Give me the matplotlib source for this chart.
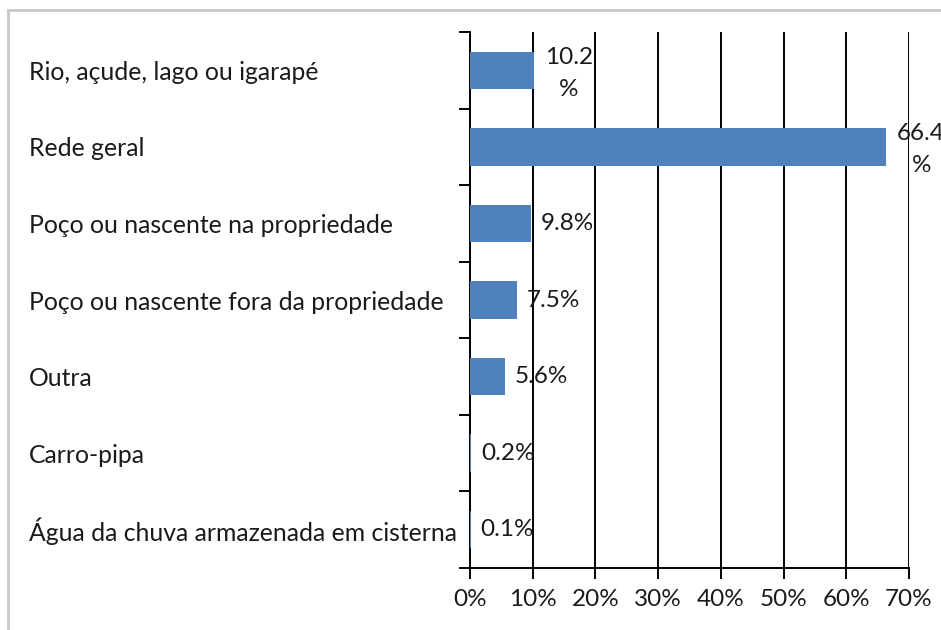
import matplotlib
matplotlib.use("Agg")
import matplotlib.pyplot as plt
from matplotlib.lines import Line2D

categories = [
    "Rio, açude, lago ou igarapé",
    "Rede geral",
    "Poço ou nascente na propriedade",
    "Poço ou nascente fora da propriedade",
    "Outra",
    "Carro-pipa",
    "Água da chuva armazenada em cisterna",
]
values = [10.2, 66.4, 9.8, 7.5, 5.6, 0.2, 0.1]
value_labels = ["10.2\n%", "66.4\n%", "9.8%", "7.5%", "5.6%", "0.2%", "0.1%"]
xticks = [0, 10, 20, 30, 40, 50, 60, 70]
xtick_labels = ["0%", "10%", "20%", "30%", "40%", "50%", "60%", "70%"]

plt.rcParams['font.family'] = ['Lato', 'DejaVu Sans']

W, H = 941, 630
fig = plt.figure(figsize=(W / 100, H / 100), dpi=100)
ax_left, ax_right, ax_top, ax_bottom = 470, 909, 32, 568
ax = fig.add_axes([ax_left / W, 1 - ax_bottom / H, (ax_right - ax_left) / W, (ax_bottom - ax_top) / H])

# outer grey frame
fig.add_artist(Line2D([8 / W, 8 / W], [0, 1 - 10 / H], color="#c8c8c8", lw=2, transform=fig.transFigure))
fig.add_artist(Line2D([8 / W, 1], [1 - 10 / H, 1 - 10 / H], color="#c8c8c8", lw=2, transform=fig.transFigure))

n = len(categories)
ypos = list(range(n))
ax.barh(ypos, values, height=0.49, color="#4F81BD", zorder=3)
ax.set_xlim(0, 70)
ax.set_ylim(n - 0.5, -0.5)

ax.set_xticks(xticks)
ax.set_xticklabels(xtick_labels, fontsize=17.5, color="#1a1a1a")
ax.grid(axis="x", color="black", lw=1.4, zorder=1)
ax.set_axisbelow(True)

ax.set_yticks(ypos)
pad_px = ax_left - 29
ax.set_yticklabels(categories, fontsize=17.8, color="#1a1a1a", ha="left")
ax.tick_params(axis="y", length=0, pad=pad_px * 72 / 100)
ax.set_yticks([i - 0.5 for i in range(n + 1)], minor=True)
ax.tick_params(axis="y", which="minor", length=8, width=1.4, direction="out")
ax.tick_params(axis="x", length=8, width=1.4, direction="out", pad=7)

for s in ["top", "right"]:
    ax.spines[s].set_visible(False)
ax.spines["left"].set_linewidth(1.4)
ax.spines["bottom"].set_linewidth(1.4)

for i, (v, lab) in enumerate(zip(values, value_labels)):
    if "\n" in lab:
        ax.annotate(lab, (v, i), xytext=(25, -2), textcoords="offset points",
                    ha="center", va="center", fontsize=17.5, color="#1a1a1a",
                    linespacing=1.65, annotation_clip=False, zorder=4)
    else:
        ax.annotate(lab, (v, i), xytext=(7, 0), textcoords="offset points",
                    ha="left", va="center", fontsize=17.5, color="#1a1a1a",
                    annotation_clip=False, zorder=4)

fig.savefig("out.png", dpi=100)
